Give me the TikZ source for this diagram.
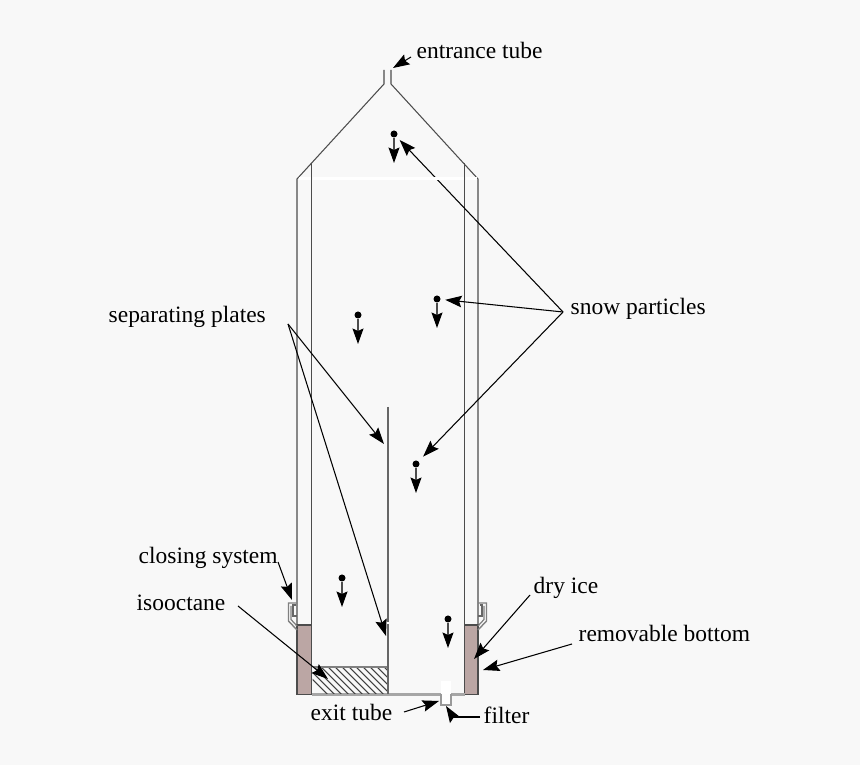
\documentclass[tikz,border=0pt]{standalone}
\usepackage{fontspec}
\setmainfont{Liberation Serif}
\usetikzlibrary{arrows.meta, positioning, calc}

\definecolor{pagegray}{HTML}{F8F8F8}
\definecolor{dryice}{HTML}{BBA6A4}

\tikzset{
  wall/.style={line width=0.3pt, black!70},
  label/.style={anchor=base west, inner sep=0pt, font=\fontsize{6.68}{8}\selectfont},
  pointer/.style={line width=0.3pt, -{Stealth[length=0.165cm, width=0.115cm, inset=0.025cm]}},
  snowdot/.style={circle, fill=black, inner sep=0pt, minimum size=0.07cm},
  fallarrow/.style={line width=0.35pt, black!70, -{Stealth[length=0.155cm, width=0.11cm, inset=0.025cm, black]}},
}

\begin{document}
\begin{tikzpicture}

\fill[pagegray] (0,0) rectangle (8.6,7.65);
\useasboundingbox (0,0) rectangle (8.6,7.65);

% ---- Housing ------------------------------------------------------------
\draw[wall] (3.84,6.95) -- (3.84,6.81) -- (2.97,5.86) -- (2.97,1.40);
\draw[wall] (3.91,6.95) -- (3.91,6.81) -- (4.78,5.86) -- (4.78,1.40);
\draw[wall] (3.115,6.02) -- (3.115,1.40);
\draw[wall] (4.645,6.02) -- (4.645,1.40);

% ---- Dry ice, bottom ----------------------------------------------------
\draw[line width=0.5pt, black!70, fill=dryice] (2.97,0.705) rectangle (3.115,1.40);
\draw[line width=0.5pt, black!70, fill=dryice] (4.645,0.705) rectangle (4.78,1.40);
\draw[line width=0.6pt, black!35] (3.115,0.705) -- (4.645,0.705);

% ---- Isooctane ----------------------------------------------------------
\begin{scope}
  \clip (3.125,0.71) rectangle (3.875,0.98);
  \foreach \x in {3.0,3.07,...,4.3}{\draw[line width=0.3pt, black!75] (\x,0.98) -- ++(0.3,-0.3);}
\end{scope}
\draw[line width=0.35pt, black!50] (3.125,0.98) -- (3.875,0.98);

% ---- Separating plate ---------------------------------------------------
\draw[line width=0.35pt, black!60] (3.88,3.58) -- (3.88,0.705);
\draw[white, line width=0.4pt] (3.88,1.425) -- (3.88,1.405);

% ---- Filter -------------------------------------------------------------
\fill[white] (4.41,0.71) rectangle (4.51,0.84);
\draw[line width=0.35pt, black!40, fill=white!90!pagegray] (4.41,0.71) -- (4.41,0.60) -- (4.51,0.60) -- (4.51,0.71);

% ---- Closing system -----------------------------------------------------
\foreach \s/\c in {1/2.97, -1/4.78}{
  \begin{scope}[shift={(\c,0)}, xscale=\s]
    \draw[line width=0.4pt, black!50] (0,1.62) -- (-0.085,1.62) -- (-0.085,1.44) -- (0,1.35);
    \draw[line width=0.35pt, black!50] (-0.06,1.59) -- (-0.06,1.455) -- (0,1.39);
    \draw[line width=0.35pt, black!60] (-0.015,1.60) -- (-0.04,1.60) -- (-0.04,1.49) -- (0,1.49);
  \end{scope}
}

% ---- Snow particles -----------------------------------------------------
\foreach \n/\x/\y in {a/3.94/6.31, b/4.37/4.66, c/3.58/4.50, d/4.16/3.01, e/3.42/1.87, f/4.48/1.46}{
  \node[snowdot] (snow\n) at (\x,\y) {};
  \draw[fallarrow] (snow\n) -- +(0,-0.29);
}

% ---- Labels -------------------------------------------------------------
\node[label] (entrance) at (4.16,7.06) {entrance tube};
\node[label] (plates)   at (1.08,4.42) {separating plates};
\node[label] (particles) at (5.70,4.50) {snow particles};
\node[label] (closing)  at (1.38,2.01) {closing system};
\node[label] (isooctane) at (1.36,1.54) {isooctane};
\node[label] (dryicetxt) at (5.33,1.71) {dry ice};
\node[label] (bottom)   at (5.78,1.23) {removable bottom};
\node[label] (exit)     at (3.10,0.44) {exit tube};
\node[label] (filter)   at (4.83,0.41) {filter};

\coordinate (entrancetip) at (3.93,6.97);
\coordinate (platesroot) at (2.88,4.41);
\coordinate (platestipa) at (3.84,3.21);
\coordinate (platestipb) at (3.86,1.29);
\coordinate (particlesroot) at (5.63,4.53);
\coordinate (closingtip) at (2.92,1.65);
\coordinate (isooctanetip) at (3.28,0.86);
\coordinate (dryicetip) at (4.74,1.06);
\coordinate (bottomtip) at (4.83,0.95);
\coordinate (exittip) at (4.39,0.64);
\coordinate (filterbend) at (4.53,0.48);
\coordinate (filtertip) at (4.46,0.59);

% ---- Pointers -----------------------------------------------------------
\draw[pointer] (4.11,7.08) -- (entrancetip);
\draw[pointer] (platesroot) -- (platestipa);
\draw[pointer] (platesroot) -- (platestipb);
\draw[pointer, shorten >=0.04cm] (particlesroot) -- (snowa);
\draw[pointer, shorten >=0.04cm] (particlesroot) -- (snowb);
\draw[pointer, shorten >=0.06cm] (particlesroot) -- (snowd);
\draw[pointer] (2.78,2.03) -- (closingtip);
\draw[pointer] (2.38,1.59) -- (isooctanetip);
\draw[pointer] (5.30,1.70) -- (dryicetip);
\draw[pointer] (5.72,1.21) -- (bottomtip);
\draw[pointer] (4.04,0.53) -- (exittip);
\draw[line width=0.3pt] (4.80,0.48) -- (filterbend);
\draw[pointer] (filterbend) -- (filtertip);

% white strip across the housing, over the pointer
\foreach \a/\b in {2.985/3.105, 3.125/4.635, 4.655/4.765}{
  \draw[white, line width=0.8pt] (\a,5.865) -- (\b,5.865);
}

\end{tikzpicture}
\end{document}
